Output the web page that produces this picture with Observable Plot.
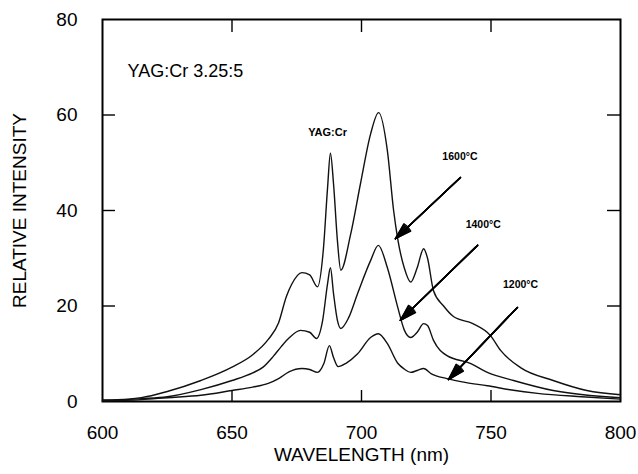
<!DOCTYPE html>
<html><head><meta charset="utf-8">
<script src="https://cdn.jsdelivr.net/npm/d3@7"></script>
<script src="https://cdn.jsdelivr.net/npm/@observablehq/plot@0.6"></script>
<style>body{margin:0;background:#fff;}</style>
</head><body><div id="chart"></div>
<script>
// Spectra (wavelength nm, relative intensity)
const wl1600 = [600,610,615,625,638,650,658,664,668,671,673,677,680,683,685.3,686.9,688,689.2,690.7,692,695.8,699.6,703.5,706.6,710,712.4,714,716.5,719,721.5,724,725.5,727.8,731.7,735.5,743,749.8,753.7,761.4,774,787,800];
const int1600 = [0.3,0.5,0.8,2.1,4.4,7.2,9.8,13,16.5,22,24.5,27,26.5,24,32,44.8,52,45.6,33.7,27.5,35,45.6,56,60.5,52.5,40,34,28,25,28,32,30,23.2,20,17.8,16.3,13.8,10.7,7.1,4.4,2.3,1.4];
const wl1400 = [600,615,625,638,650,658,662,666,669,672,676.4,680,682.6,685,686.9,688,689.2,690.7,692,695,698.5,703.5,706.5,710,714,716.5,719,721.5,724,725.5,727.8,733,742,748.6,758.7,774,800];
const int1400 = [0.2,0.6,1.0,2.5,4.4,6,7.2,9.5,11.5,13.3,14.9,14.5,13.2,17,24.7,28,22.6,17,15.3,17.5,22.6,29.5,32.7,28,19.7,15,13.4,14.5,16.3,15.9,12.8,9.6,8,6.1,4.4,2.3,0.8];
const wl1200 = [600,615,625,638,650,658,664,668,672,677,680,683,685.5,687.6,689.2,691,694,698.5,703.5,706.5,710,714,716.5,719,721.5,724,727,733,740,748.6,758,768,785,800];
const int1200 = [0.1,0.4,0.8,1.3,2.3,3.0,3.8,4.8,6.2,6.9,6.7,6.1,8,11.7,9.2,7.3,8,10,13.4,14.2,12.1,8,6.8,6.1,6.5,6.9,5.8,4.8,4,3.3,2.4,1.7,1,0.5];

const seriesNames = ["1600°C", "1400°C", "1200°C"];
// Annotation arrows (tail -> tip, data units) and temperature labels
const arrowX1 = [738.2, 744.8, 760.2];
const arrowY1 = [46.9, 32.7, 19.7];
const arrowX2 = [713.1, 715.0, 733.6];
const arrowY2 = [34.1, 17.0, 4.6];
const labelX = [738.0, 747.0, 761.4];
const labelY = [51.3, 37.0, 24.5];

const xTicks = [600, 650, 700, 750, 800];
const yTicks = [0, 20, 40, 60, 80];
const innerXTicks = [650, 700, 750];
const innerYTicks = [20, 40, 60];

const sampleTitle = "YAG:Cr 3.25:5";
const sampleTitleX = 609.7, sampleTitleY = 69.1;
const peakLabel = "YAG:Cr";
const peakLabelX = 686.9, peakLabelY = 56.3;

const rows = [];
[[wl1600, int1600], [wl1400, int1400], [wl1200, int1200]].forEach(([w, v], i) => {
  w.forEach((x, j) => rows.push({series: seriesNames[i], wl: x, val: v[j]}));
});
const arrows = seriesNames.map((s, i) => ({s, x1: arrowX1[i], y1: arrowY1[i], x2: arrowX2[i], y2: arrowY2[i], lx: labelX[i], ly: labelY[i]}));

const W = 638, H = 474, ML = 102, MR = 18, MT = 19, MB = 73;
const frameW = W - ML - MR, frameH = H - MT - MB;
const font = "'Liberation Sans', Arial, Helvetica, sans-serif";
const plot = Plot.plot({
  width: W, height: H,
  marginLeft: ML, marginRight: MR, marginTop: MT, marginBottom: MB,
  style: {fontFamily: font, color: "#000", background: "#fff"},
  x: {domain: [600, 800], axis: null},
  y: {domain: [0, 80], axis: null},
  marks: [
    Plot.text(xTicks, {x: d => d, frameAnchor: "bottom", dy: 31, textAnchor: "middle", lineAnchor: "middle", fontSize: 19, fill: "#000"}),
    Plot.text(yTicks, {y: d => d, frameAnchor: "left", dx: -25, textAnchor: "end", lineAnchor: "middle", fontSize: 19, fill: "#000"}),
    // inward tick marks on all four sides
    Plot.tickY(innerYTicks, {y: d => d, insetRight: frameW - 13, strokeWidth: 1.4, stroke: "#000"}),
    Plot.tickY(innerYTicks, {y: d => d, insetLeft: frameW - 13, strokeWidth: 1.4, stroke: "#000"}),
    Plot.tickX(innerXTicks, {x: d => d, insetBottom: frameH - 13, strokeWidth: 1.4, stroke: "#000"}),
    Plot.tickX(innerXTicks, {x: d => d, insetTop: frameH - 11, strokeWidth: 1.4, stroke: "#000"}),
    Plot.frame({strokeWidth: 2}),
    Plot.line(rows, {x: "wl", y: "val", z: "series", curve: "monotone-x", stroke: "#111", strokeWidth: 1.4}),
    ...[6, 14, 22, 30, 34].map(a => Plot.arrow(arrows, {x1: "x1", y1: "y1", x2: "x2", y2: "y2", headAngle: a, headLength: 17, strokeWidth: 1.5, stroke: "#000"})),
    Plot.text(arrows, {x: "lx", y: "ly", text: "s", fontSize: 10.5, fontWeight: "bold", fill: "#000"}),
    Plot.text([peakLabel], {x: peakLabelX, y: peakLabelY, fontSize: 11, fontWeight: "bold", fill: "#000"}),
    Plot.text([sampleTitle], {x: sampleTitleX, y: sampleTitleY, textAnchor: "start", fontSize: 18, fill: "#000"}),
    Plot.text(["WAVELENGTH (nm)"], {frameAnchor: "bottom", dy: 53, lineAnchor: "middle", textAnchor: "middle", fontSize: 19, fill: "#000"}),
    Plot.text(["RELATIVE INTENSITY"], {frameAnchor: "left", dx: -83, rotate: -90, textAnchor: "middle", lineAnchor: "middle", fontSize: 19, fill: "#000"})
  ]
});
document.getElementById("chart").appendChild(plot);
</script>
</body></html>
